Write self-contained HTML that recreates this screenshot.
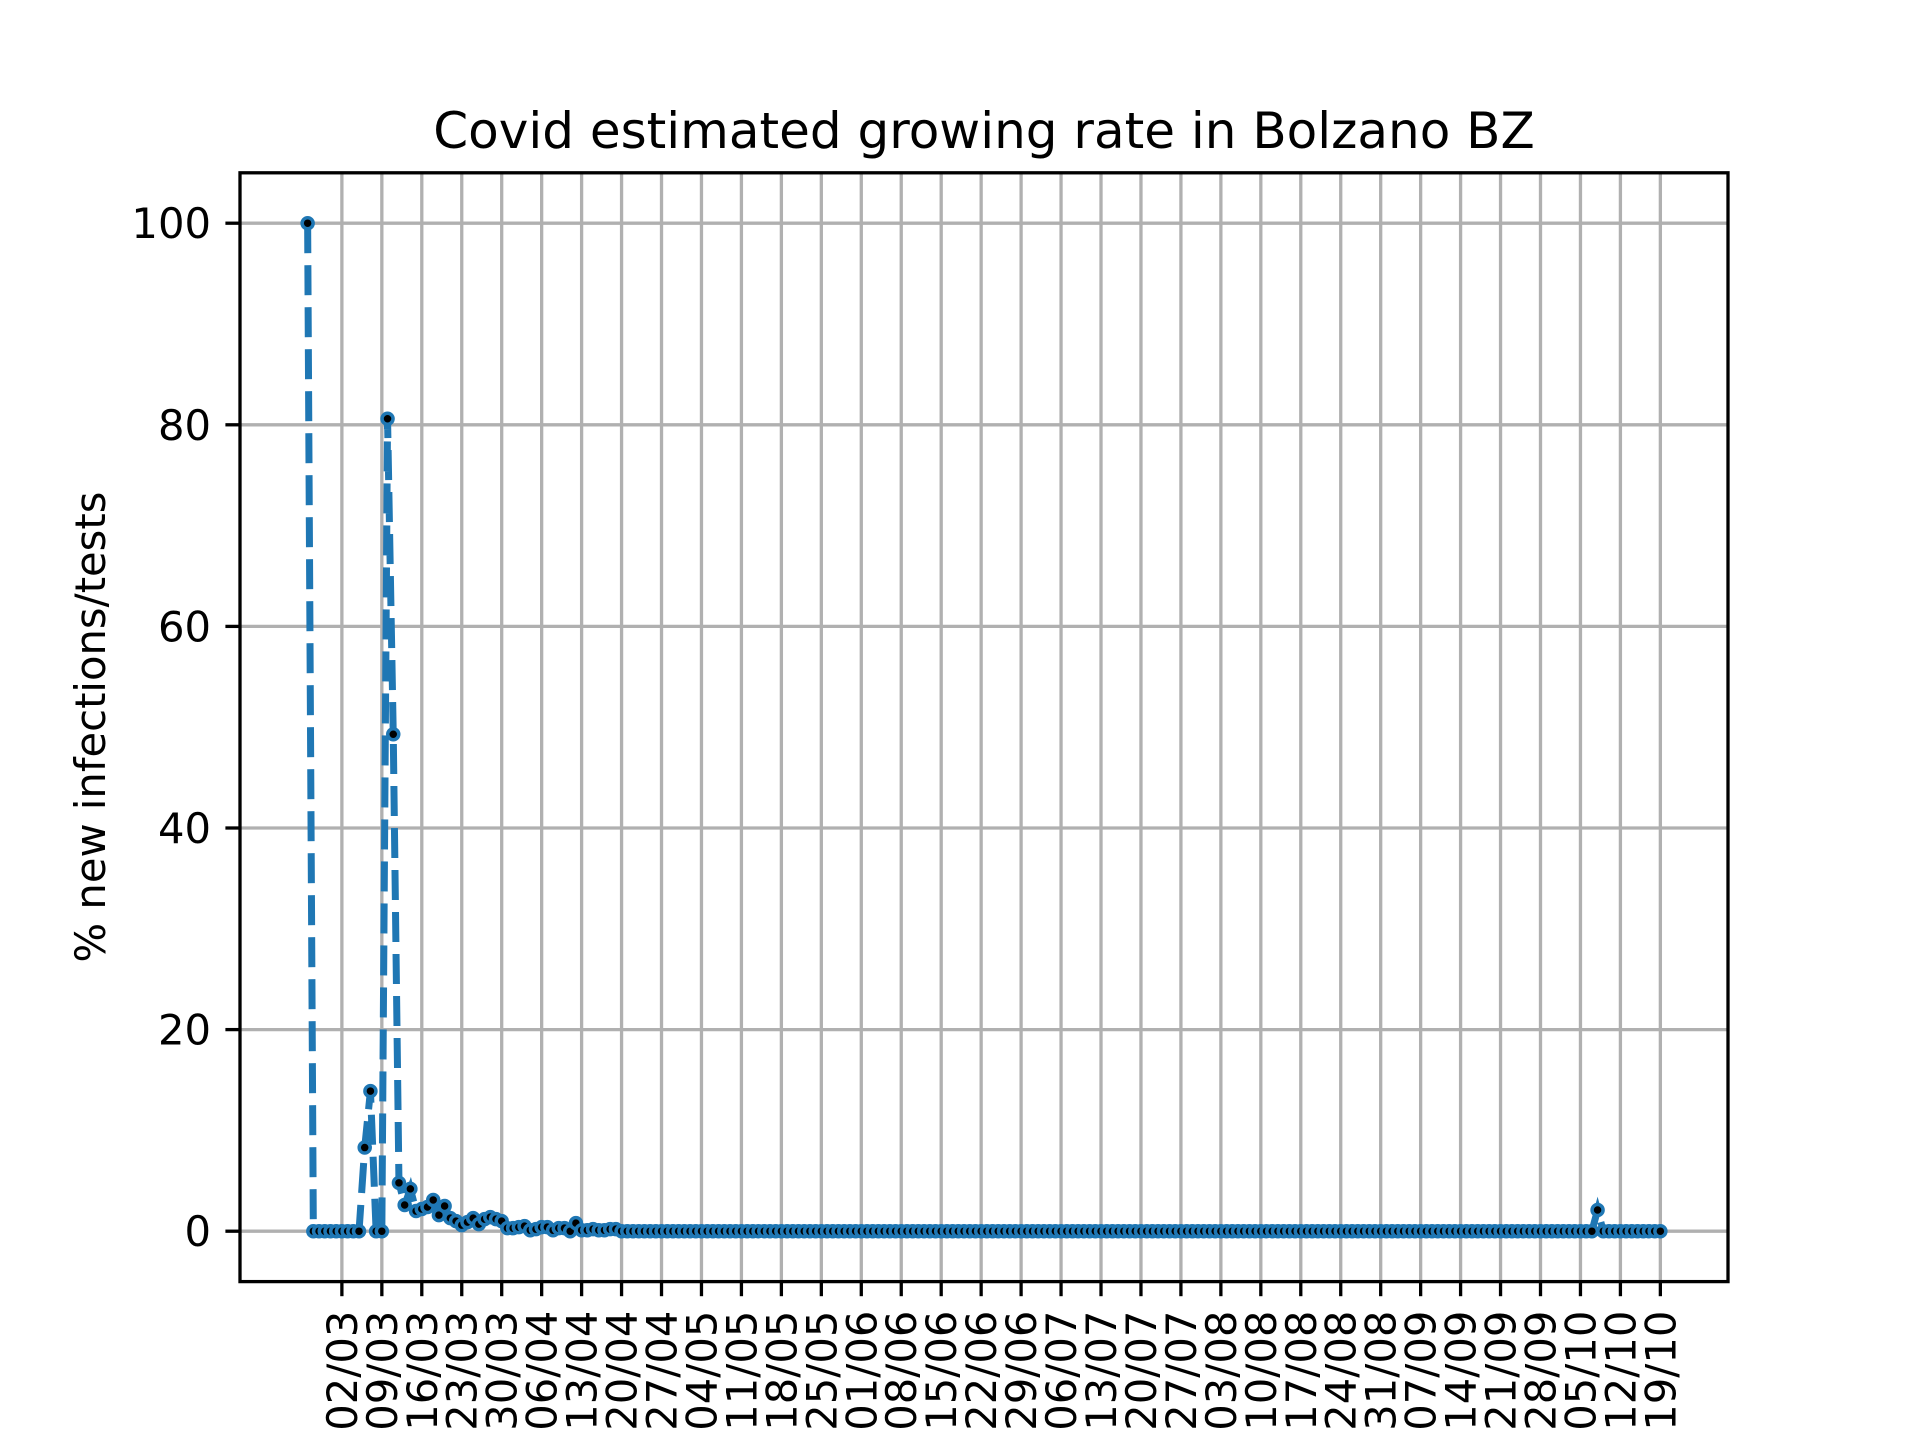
<!DOCTYPE html>
<html><head><meta charset="utf-8">
<style>
html,body{margin:0;padding:0;background:#fff;}
svg{display:block;}
text{font-family:"DejaVu Sans","Liberation Sans",sans-serif;fill:#000;}
</style></head>
<body>
<svg id="chart" width="1920" height="1440" viewBox="0 0 1920 1440" xmlns="http://www.w3.org/2000/svg">
<rect width="1920" height="1440" fill="#fff"/>
<text x="984" y="148" font-size="50" text-anchor="middle">Covid estimated growing rate in Bolzano BZ</text>
<text transform="translate(105,727) rotate(-90)" font-size="41.7" text-anchor="middle">% new infections/tests</text>
<g id="grid"></g>
<g id="series"></g>
<g id="axes"></g>
</svg>
<script>
const yTicks = [0, 20, 40, 60, 80, 100];
const xTickLabels = ["02/03","09/03","16/03","23/03","30/03","06/04","13/04","20/04","27/04","04/05","11/05","18/05","25/05","01/06","08/06","15/06","22/06","29/06","06/07","13/07","20/07","27/07","03/08","10/08","17/08","24/08","31/08","07/09","14/09","21/09","28/09","05/10","12/10","19/10"];
const xTickDays = [6,13,20,27,34,41,48,55,62,69,76,83,90,97,104,111,118,125,132,139,146,153,160,167,174,181,188,195,202,209,216,223,230,237];
const earlyValues = [100,0,0,0,0,0,0,0,0,0,8.3,13.9,0,0,80.6,49.3,4.8,2.6,4.2,2.0,2.2,2.4,3.1,1.6,2.5,1.3,1.0,0.6,0.9,1.3,0.7,1.2,1.4,1.2,1.0,0.3,0.3,0.4,0.5,0.1,0.2,0.4,0.4,0.1,0.3,0.3,0.0,0.8,0.1,0.1,0.2,0.1,0.1,0.2,0.2];
const spikeDay = 226;
const spikeValue = 2.1;
const totalDays = 238;

const values = [];
for (let i = 0; i < totalDays; i++) {
  values.push(i < earlyValues.length ? earlyValues[i] : 0);
}
values[spikeDay] = spikeValue;

const L = 240, R = 1728, T = 172.8, B = 1281.6;
const xMin = -11.85, xMax = 237 + 11.85, yMin = -5, yMax = 105;
const xs = d => L + (d - xMin) / (xMax - xMin) * (R - L);
const ys = v => B - (v - yMin) / (yMax - yMin) * (B - T);
const NS = "http://www.w3.org/2000/svg";
function mk(tag, attrs, parent) {
  const e = document.createElementNS(NS, tag);
  for (const k in attrs) e.setAttribute(k, attrs[k]);
  parent.appendChild(e);
  return e;
}
const grid = document.getElementById('grid');
const axes = document.getElementById('axes');
const series = document.getElementById('series');

xTickDays.forEach((d, i) => {
  const x = xs(d);
  const g = mk('line', {x1: x, x2: x, y1: T, y2: B, stroke: '#b0b0b0', 'stroke-width': 3.3}, grid);
  
  
  const t = mk('line', {x1: x, x2: x, y1: B, y2: B + 14.6, stroke: '#000', 'stroke-width': 3.3}, axes);
  
  
  const lb = mk('text', {'font-size': 41.7, 'text-anchor': 'end', transform: `translate(${x + 15},${B + 29}) rotate(-90)`}, axes);
  lb.textContent = xTickLabels[i];
  
  
});
yTicks.forEach(v => {
  const y = ys(v);
  const g = mk('line', {x1: L, x2: R, y1: y, y2: y, stroke: '#b0b0b0', 'stroke-width': 3.3}, grid);
  
  
  const t = mk('line', {x1: L - 14.6, x2: L, y1: y, y2: y, stroke: '#000', 'stroke-width': 3.3}, axes);
  
  
  const lb = mk('text', {x: L - 29, y: y + 15, 'font-size': 41.7, 'text-anchor': 'end'}, axes);
  lb.textContent = String(v);
  
  
});
const frame = mk('rect', {x: L, y: T, width: R - L, height: B - T, fill: 'none', stroke: '#000', 'stroke-width': 3.3}, axes);



const pts = values.map((v, i) => xs(i).toFixed(2) + ',' + ys(v).toFixed(2)).join(' ');
const line = mk('polyline', {points: pts, fill: 'none', stroke: '#1f77b4', 'stroke-width': 7, 'stroke-dasharray': '30 12', 'stroke-linejoin': 'miter'}, series);


values.forEach((v, i) => {
  const c = mk('circle', {cx: xs(i), cy: ys(v), r: 5.5, fill: '#000', stroke: '#1f77b4', 'stroke-width': 3.5}, series);
  
  
});
</script>
</body></html>
